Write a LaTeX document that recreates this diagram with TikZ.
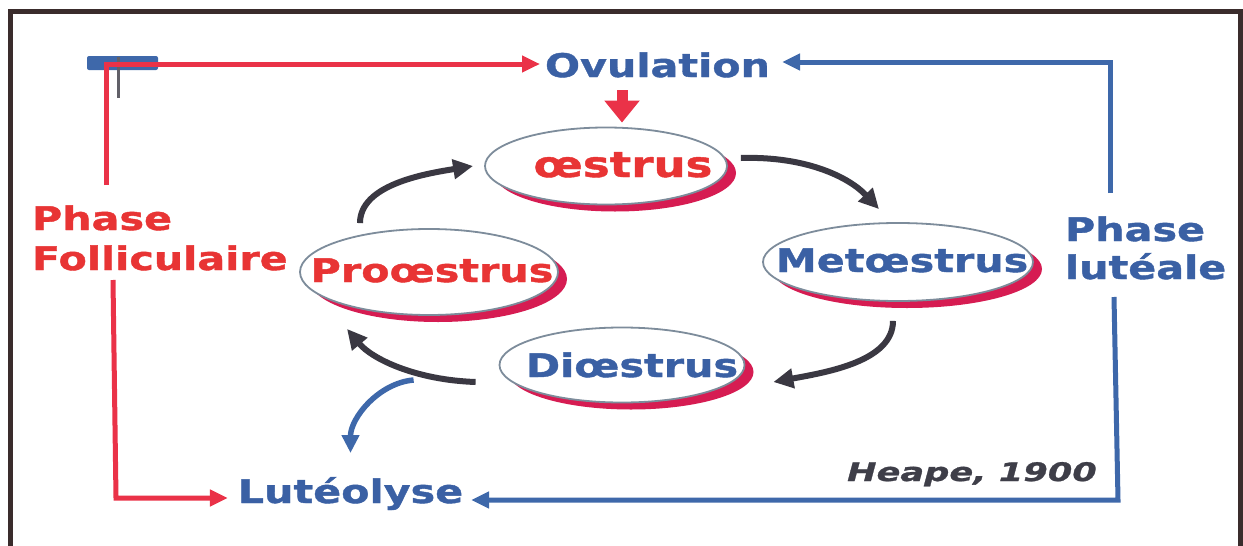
\documentclass[tikz,border=0pt]{standalone}
\usepackage{fontspec}
\newfontfamily\dv[FakeStretch=1.27,FakeBold=1.2]{DejaVu Sans}
\newfontfamily\dvh[FakeStretch=1.38,FakeBold=1]{DejaVu Sans}
\usetikzlibrary{shapes.geometric,shadows,arrows.meta,calc}
\definecolor{tred}{RGB}{232,52,52}
\definecolor{lred}{RGB}{234,50,72}
\definecolor{tblue}{RGB}{58,96,164}
\definecolor{lblue}{RGB}{62,104,170}
\definecolor{cgrey}{RGB}{58,56,66}
\definecolor{framecol}{RGB}{58,44,44}
\definecolor{shred}{RGB}{214,28,82}
\definecolor{eline}{RGB}{125,140,155}
\definecolor{hgrey}{RGB}{62,62,72}
\begin{document}
\begin{tikzpicture}[x=1pt,y=-1pt,
  lab/.style={inner sep=0pt, outer sep=0pt, font=\dv\bfseries\fontsize{32.5}{36}\selectfont},
  elab/.style={inner sep=0pt, outer sep=0pt, anchor=base, font=\dv\bfseries\fontsize{32.5}{36}\selectfont},
  ell/.style={ellipse, draw=eline, line width=1.8pt, fill=white, inner sep=0pt,
    drop shadow={shadow xshift=9pt, shadow yshift=-7pt, fill=shred, opacity=1}},
  redl/.style={draw=lred, line width=5pt, line join=miter},
  bluel/.style={draw=lblue, line width=5pt, line join=miter},
  cyc/.style={draw=cgrey, line width=6pt, -{Triangle[length=20pt,width=19pt]}},
  tip/.style={-{Triangle[length=18pt,width=16pt]}}
]
\useasboundingbox (0,0) rectangle (1243,546);
\fill[white] (0,0) rectangle (1243,546);
% frame
\draw[framecol, line width=5pt] (10,546) -- (10,11) -- (1240,11) -- (1240,546);

% ellipses
\node[ell, minimum width=242pt, minimum height=77pt] (oe) at (606,166) {};
\node[ell, minimum width=258pt, minimum height=86pt] (pro) at (429,272) {};
\node[ell, minimum width=270pt, minimum height=78pt] (met) at (898,262) {};
\node[ell, minimum width=245pt, minimum height=75pt] (dio) at (622,365) {};

\node[elab, text=tred, font=\dv\bfseries\fontsize{35.5}{40}\selectfont] (oet) at (623,177) {œstrus};
\node[elab, text=tred] (prot) at (432,282) {Proœstrus};
\node[elab, text=tblue] (mett) at (902,272) {Metœstrus};
\node[elab, text=tblue] (diot) at (632,377) {Diœstrus};

% labels
\node[lab, anchor=base, text=tblue] (ov) at (657.5,77) {Ovulation};
\node[lab, anchor=base, text=tblue] (lut) at (350.5,503) {Lutéolyse};
\node[lab, anchor=base west, text=tred] (ph1) at (32,230) {Phase};
\node[lab, anchor=base west, text=tred] (fol) at (32,270) {Folliculaire};
\node[lab, anchor=base west, text=tblue] (ph2) at (1065,241) {Phase};
\node[lab, anchor=base west, text=tblue] (lute) at (1065,279) {lutéale};
\node[inner sep=0pt, anchor=base east, text=hgrey, font=\dvh\bfseries\itshape\fontsize{25.5}{30}\selectfont] (heape) at (1097,481) {Heape, 1900};

% stray mark top left
\fill[lblue, rounded corners=2pt] (87,56) rectangle (158,70);
\draw[cgrey!80, line width=3pt] (118,57) -- (118,98);

% coordinates of the frame-lines
\coordinate (rt1) at (106,185);
\coordinate (rtl) at (106,64);
\coordinate (rb1) at (113,280);
\coordinate (rbl) at (116,498);
\coordinate (bt1) at (1110,193);
\coordinate (btr) at (1110,62);
\coordinate (bb1) at (1114,297);
\coordinate (bbr) at (1118,500);
\coordinate (ba) at (622,90);

\draw[redl, tip, shorten >=5pt] (rt1) -- (rtl) -- (rtl -| ov.west);
\draw[redl, tip, shorten >=10pt] (rb1) -- (rbl) -- (rbl -| lut.west);
\draw[bluel, tip, shorten >=12pt] (bt1) -- (btr) -- (btr -| ov.east);
\draw[bluel, tip, shorten >=8pt] (bb1) -- (bbr) -- (bbr -| lut.east);

% block arrow ovulation -> oestrus
\draw[lred, line width=11pt, -{Triangle[length=22pt,width=34pt]}, shorten >=4pt] (ba) -- (ba |- oe.north);

% cycle arrows
\draw[cyc] ([xshift=-69pt,yshift=5pt]pro.north) .. controls +(0,-38) and +(-50,8) .. ([xshift=-11pt]oe.west);
\draw[cyc] ([xshift=13pt,yshift=8pt]oe.east) .. controls +(65,-2) and +(-30,-32) .. ([xshift=-19pt,yshift=13pt]met.north);
\draw[cyc] ([xshift=-5pt,yshift=-19pt]met.south) .. controls +(0,40) and +(55,-10) .. ([xshift=28pt,yshift=-17pt]dio.east);
\draw[cyc] ([xshift=-23pt,yshift=-17pt]dio.west) .. controls +(-60,-2) and +(25,30) .. ([xshift=-82pt,yshift=-13pt]pro.south);

% blue arrow to luteolyse
\draw[lblue, line width=5.5pt, -{Triangle[length=18pt,width=17pt]}] ([xshift=-85pt,yshift=-15pt]dio.west) .. controls +(-35,3) and +(0,-35) .. ([yshift=24pt]lut.north);
\end{tikzpicture}
\end{document}
